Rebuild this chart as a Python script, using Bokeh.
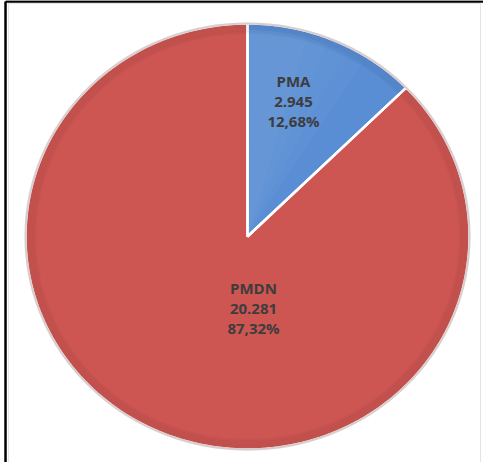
import numpy as np
from bokeh.plotting import figure
from bokeh.models import Range1d, ColumnDataSource
from bokeh.embed import file_html
from bokeh.resources import INLINE
from bokeh.core.properties import value

# ---- data ----
categories = ["PMA", "PMDN"]
counts = [2945, 20281]
count_labels = ["2.945", "20.281"]
pct_labels = ["12,68%", "87,32%"]

# ---- style ----
colors = ["#5A8ED4", "#CD5552"]
label_x = [0.207, 0.027]
label_y = [0.638, -0.338]

W, H = 483, 462
cx, cy = 247, 236          # pie centre in figure pixels
rx, ry = 222, 213          # pixel radii (slightly elliptical)

p = figure(width=W, height=H,
           x_range=Range1d(-cx / rx, (W - cx) / rx),
           y_range=Range1d(-(H - cy) / ry, cy / ry),
           x_axis_type=None, y_axis_type=None,
           output_backend="svg", toolbar_location=None,
           min_border=0, outline_line_color=None,
           background_fill_color="white", border_fill_color="white")
p.grid.visible = False

# frame lines
xr, yr = p.x_range, p.y_range
p.segment(x0=[-1.0766, -1.0766, 1.0495], y0=[1.094, 1.094, 1.094],
          x1=[1.0495, -1.0766, 1.0495], y1=[1.094, yr.start, yr.start],
          line_color="#e4e4e4", line_width=1)
p.segment(x0=[-1.090, -1.090], y0=[1.103, 1.103],
          x1=[xr.end, -1.090], y1=[1.103, yr.start],
          line_color="black", line_width=2.5)

# wedges from the data
vals = np.array(counts, dtype=float)
frac = vals / vals.sum()
cum = np.concatenate([[0], np.cumsum(frac)])
starts = np.pi / 2 - 2 * np.pi * cum[:-1]
ends = np.pi / 2 - 2 * np.pi * cum[1:]


def sector(a0, a1, r=1.0):
    t = np.linspace(a0, a1, 200)
    return (np.concatenate([[0], r * np.cos(t), [0]]),
            np.concatenate([[0], r * np.sin(t), [0]]))


xs, ys = [], []
for a0, a1 in zip(starts, ends):
    sx, sy = sector(a0, a1)
    xs.append(sx)
    ys.append(sy)

src = ColumnDataSource(dict(xs=xs, ys=ys, color=colors))
p.patches("xs", "ys", source=src, fill_color="color",
          line_color=None)

# soft light sheen on the small slice
for k in range(4):
    hx, hy = sector(starts[0], starts[0] - (0.35 + 0.12 * k) * (starts[0] - ends[0]), 0.97)
    p.patch(hx, hy, fill_color="white", fill_alpha=0.025, line_color=None)

# white separators
p.patches(xs, ys, fill_color=None, line_color="white", line_width=2.5)

# soft darkening toward rim
for k in range(8):
    r = 1 - 0.006 * k
    p.ellipse(x=[0], y=[0], width=[2 * r], height=[2 * r],
              fill_color=None, line_color="black", line_alpha=0.025,
              line_width=3)
# outer rim
p.ellipse(x=[0], y=[0], width=[2.0], height=[2.0], fill_color=None,
          line_color="#d8cccc", line_width=2)

texts = [f"{c}\n{n}\n{q}" for c, n, q in zip(categories, count_labels, pct_labels)]
p.text(x=label_x, y=label_y, text=texts,
       text_align="center", text_baseline="middle",
       text_font=value("Open Sans"), text_font_style="bold",
       text_font_size="15px", text_line_height=1.0,
       text_color="#3d3d3d")

open("out.html", "w").write(file_html(p, INLINE))
